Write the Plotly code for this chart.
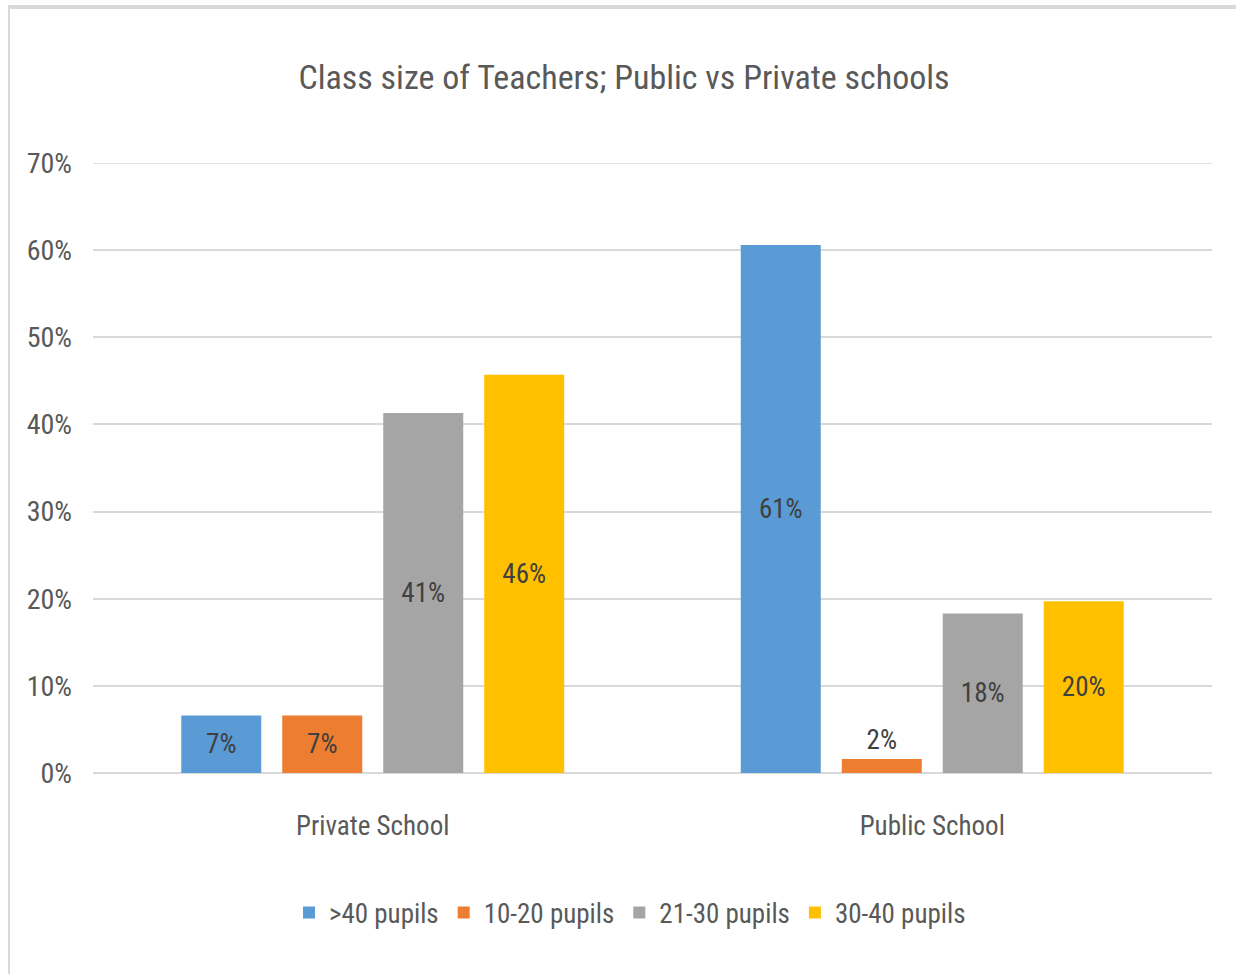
import plotly.graph_objects as go

# Shares of teachers by class size, per school type
schools = ["Private School", "Public School"]
series_names = [">40 pupils", "10-20 pupils", "21-30 pupils", "30-40 pupils"]
over_40 = [0.066, 0.606]
size_10_20 = [0.066, 0.016]
size_21_30 = [0.413, 0.183]
size_30_40 = [0.457, 0.197]
y_ticks = [0, 0.1, 0.2, 0.3, 0.4, 0.5, 0.6, 0.7]

series_values = [over_40, size_10_20, size_21_30, size_30_40]
colors = ["#5B9BD5", "#ED7D31", "#A5A5A5", "#FFC000"]

FONT = "Liberation Sans Narrow, Arial Narrow, Roboto Condensed, Liberation Sans, sans-serif"
TEXT_GRAY = "#595959"
LABEL_GRAY = "#404040"
GRID = "#D9D9D9"

W, H = 1236, 974
L, R, T, B = 93, 24, 163, 201
plot_w = W - L - R
plot_h = H - T - B

fig = go.Figure()
for name, vals, col in zip(series_names, series_values, colors):
    fig.add_trace(go.Bar(
        name=name,
        x=schools,
        y=vals,
        marker=dict(color=col, line=dict(width=0)),
        texttemplate="%{y:.0%}",
        textposition="auto",
        insidetextanchor="middle",
        constraintext="none",
        cliponaxis=False,
        insidetextfont=dict(family=FONT, size=27, color=LABEL_GRAY),
        outsidetextfont=dict(family=FONT, size=27, color=LABEL_GRAY),
    ))

def px_x(px):
    return (px - L) / plot_w

def px_y(py):
    return (H - B - py) / plot_h

fig.update_layout(
    width=W,
    height=H,
    margin=dict(l=L, r=R, t=T, b=B, autoexpand=False),
    paper_bgcolor="white",
    plot_bgcolor="white",
    barmode="group",
    bargap=0.278,
    bargroupgap=0.208,
    font=dict(family=FONT, size=27, color=TEXT_GRAY),
    title=dict(
        text="Class size of Teachers; Public vs Private schools",
        font=dict(family=FONT, size=34, color=TEXT_GRAY),
        x=624 / W, xref="container", xanchor="center",
        y=1 - 77 / H, yref="container", yanchor="middle",
    ),
    xaxis=dict(
        showgrid=False,
        showline=False,
        zeroline=False,
        ticks="",
        ticklabelstandoff=34,
        tickfont=dict(family=FONT, size=27, color=TEXT_GRAY),
    ),
    yaxis=dict(
        range=[0, 0.7],
        tickvals=y_ticks,
        tickformat=".0%",
        showgrid=True,
        gridcolor=GRID,
        gridwidth=1.5,
        zeroline=True,
        zerolinecolor=GRID,
        zerolinewidth=1.5,
        showline=False,
        ticks="",
        ticklabelstandoff=20,
        tickfont=dict(family=FONT, size=28, color=TEXT_GRAY),
    ),
    legend=dict(
        orientation="h",
        x=px_x(630), xanchor="center",
        y=px_y(913), yanchor="middle",
        font=dict(family=FONT, size=27, color=TEXT_GRAY),
        itemwidth=30,
        tracegroupgap=0,
        bgcolor="rgba(0,0,0,0)",
    ),
    showlegend=True,
    shapes=[
        # top gridline at the axis maximum
        dict(type="line", xref="paper", yref="y",
             x0=0, x1=1, y0=y_ticks[-1], y1=y_ticks[-1],
             line=dict(color=GRID, width=1.5), layer="below"),
        # chart frame: top and left edges
        dict(type="line", xref="paper", yref="paper",
             x0=px_x(8), x1=px_x(1240), y0=px_y(7), y1=px_y(7),
             line=dict(color=GRID, width=4)),
        dict(type="line", xref="paper", yref="paper",
             x0=px_x(9), x1=px_x(9), y0=px_y(7), y1=px_y(980),
             line=dict(color=GRID, width=2)),
    ],
)

fig.write_html("out.html")
